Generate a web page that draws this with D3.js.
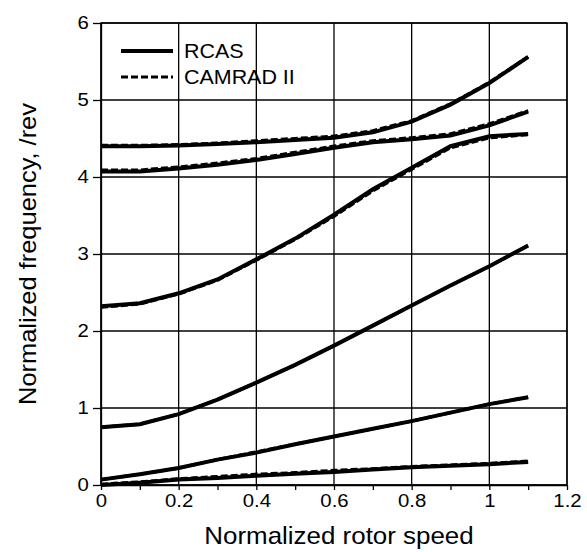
<!DOCTYPE html>
<html>
<head>
<meta charset="utf-8">
<script src="https://cdn.jsdelivr.net/npm/d3@7"></script>
<style>
  body { margin: 0; background: #fff; }
  text { font-family: "Liberation Sans", Arial, sans-serif; fill: #000; }
</style>
</head>
<body>
<div id="chart"></div>
<script>
var speed = [0, 0.1, 0.2, 0.3, 0.4, 0.5, 0.6, 0.7, 0.8, 0.9, 1.0, 1.1];

// RCAS frequencies, one array per mode
var rcas1 = [0.00, 0.03, 0.07, 0.09, 0.12, 0.145, 0.17, 0.20, 0.23, 0.25, 0.27, 0.30];
var rcas2 = [0.07, 0.14, 0.22, 0.33, 0.42, 0.53, 0.63, 0.73, 0.83, 0.94, 1.05, 1.14];
var rcas3 = [0.75, 0.79, 0.92, 1.11, 1.33, 1.56, 1.81, 2.07, 2.33, 2.59, 2.84, 3.11];
var rcas4 = [2.32, 2.36, 2.49, 2.67, 2.93, 3.20, 3.51, 3.84, 4.12, 4.40, 4.53, 4.56];
var rcas5 = [4.07, 4.07, 4.11, 4.16, 4.22, 4.30, 4.38, 4.45, 4.49, 4.54, 4.67, 4.85];
var rcas6 = [4.40, 4.40, 4.41, 4.43, 4.45, 4.48, 4.51, 4.58, 4.72, 4.94, 5.22, 5.56];

// CAMRAD II frequencies
var camrad1 = [0.01, 0.04, 0.08, 0.11, 0.14, 0.16, 0.19, 0.21, 0.24, 0.26, 0.28, 0.31];
var camrad2 = [0.07, 0.14, 0.22, 0.33, 0.43, 0.53, 0.63, 0.73, 0.83, 0.94, 1.05, 1.14];
var camrad3 = [0.75, 0.79, 0.92, 1.11, 1.33, 1.56, 1.81, 2.07, 2.33, 2.59, 2.84, 3.11];
var camrad4 = [2.31, 2.35, 2.48, 2.66, 2.92, 3.19, 3.49, 3.82, 4.10, 4.38, 4.51, 4.55];
var camrad5 = [4.09, 4.09, 4.13, 4.18, 4.24, 4.32, 4.40, 4.47, 4.51, 4.56, 4.69, 4.86];
var camrad6 = [4.41, 4.41, 4.42, 4.44, 4.47, 4.50, 4.53, 4.60, 4.73, 4.95, 5.23, 5.56];

var xTicks = [0, 0.2, 0.4, 0.6, 0.8, 1.0, 1.2];
var xMinor = [0.1, 0.3, 0.5, 0.7, 0.9, 1.1];
var yTicks = [0, 1, 2, 3, 4, 5, 6];

var legendNames = ["RCAS", "CAMRAD II"];

var width = 587, height = 552;
var pLeft = 101, pRight = 567, pTop = 23, pBottom = 485;
var sx = 1.1; // fonts in the picture are slightly wide

var svg = d3.select("#chart").append("svg")
    .attr("width", width)
    .attr("height", height);

var x = d3.scaleLinear().domain([0, 1.2]).range([pLeft, pRight]);
var y = d3.scaleLinear().domain([0, 6]).range([pBottom, pTop]);

// grid
svg.append("g").selectAll("line")
   .data(xTicks)
   .enter().append("line")
   .attr("x1", function(d) { return x(d); })
   .attr("x2", function(d) { return x(d); })
   .attr("y1", pTop).attr("y2", pBottom)
   .attr("stroke", "#000").attr("stroke-width", 1.3);

svg.append("g").selectAll("line")
   .data(yTicks)
   .enter().append("line")
   .attr("y1", function(d) { return y(d); })
   .attr("y2", function(d) { return y(d); })
   .attr("x1", pLeft).attr("x2", pRight)
   .attr("stroke", "#000").attr("stroke-width", 1.3);

var fmt = function(d) { return String(+d.toFixed(1)); };

var xAxis = svg.append("g")
   .attr("transform", "translate(0," + pBottom + ")")
   .call(d3.axisBottom(x).tickValues(xTicks).tickFormat(fmt).tickSize(5).tickSizeOuter(0).tickPadding(4));
svg.append("g")
   .attr("transform", "translate(0," + pBottom + ")")
   .call(d3.axisBottom(x).tickValues(xMinor).tickFormat("").tickSize(5).tickSizeOuter(0))
   .select(".domain").remove();

var yAxis = svg.append("g")
   .attr("transform", "translate(" + pLeft + ",0)")
   .call(d3.axisLeft(y).tickValues(yTicks).tickFormat(fmt).tickSize(8).tickSizeOuter(0).tickPadding(3));

svg.selectAll(".tick line").attr("stroke", "#000").attr("stroke-width", 1.3);
svg.selectAll(".domain").attr("stroke", "#000").attr("stroke-width", 1.3);
svg.selectAll(".tick text")
   .style("font-family", "'Liberation Sans', Arial, sans-serif")
   .attr("font-size", 18.5)
   .attr("fill", "#000");
xAxis.selectAll(".tick text").attr("transform", "scale(" + sx + ",1)");
yAxis.selectAll(".tick text").attr("transform", "scale(" + sx + ",1)");

// frame
svg.append("rect")
   .attr("x", pLeft).attr("y", pTop)
   .attr("width", pRight - pLeft).attr("height", pBottom - pTop)
   .attr("fill", "none").attr("stroke", "#000").attr("stroke-width", 1.3);

// curves
var line = d3.line()
    .x(function(d) { return x(d[0]); })
    .y(function(d) { return y(d[1]); });

var rcas = [rcas1, rcas2, rcas3, rcas4, rcas5, rcas6];
var camrad = [camrad1, camrad2, camrad3, camrad4, camrad5, camrad6];

function pairs(vals) { return speed.map(function(s, i) { return [s, vals[i]]; }); }

svg.append("g").selectAll("path")
   .data(rcas)
   .enter().append("path")
   .attr("d", function(d) { return line(pairs(d)); })
   .attr("fill", "none").attr("stroke", "#000").attr("stroke-width", 4);

svg.append("g").selectAll("path")
   .data(camrad)
   .enter().append("path")
   .attr("d", function(d) { return line(pairs(d)); })
   .attr("fill", "none").attr("stroke", "#000").attr("stroke-width", 3.2)
   .attr("stroke-dasharray", "7,3");

// legend
var legend = svg.append("g");
legendNames.forEach(function(name, i) {
  var ly = 51 + i * 26;
  legend.append("line")
        .attr("x1", 121).attr("x2", 173)
        .attr("y1", ly).attr("y2", ly)
        .attr("stroke", "#000").attr("stroke-width", i ? 3.2 : 4)
        .attr("stroke-dasharray", i ? "7,3" : null);
  legend.append("text")
        .attr("transform", "translate(184," + (ly + 6.5) + ") scale(" + sx + ",1)")
        .attr("font-size", 19.5)
        .text(name);
});

// axis titles
svg.append("text")
   .attr("transform", "translate(339,544) scale(1.08,1)")
   .attr("text-anchor", "middle")
   .attr("font-size", 24)
   .text("Normalized rotor speed");

svg.append("text")
   .attr("transform", "translate(36," + ((pTop + pBottom) / 2) + ") rotate(-90) scale(1.06,1)")
   .attr("text-anchor", "middle")
   .attr("font-size", 24)
   .text("Normalized frequency, /rev");
</script>
</body>
</html>
